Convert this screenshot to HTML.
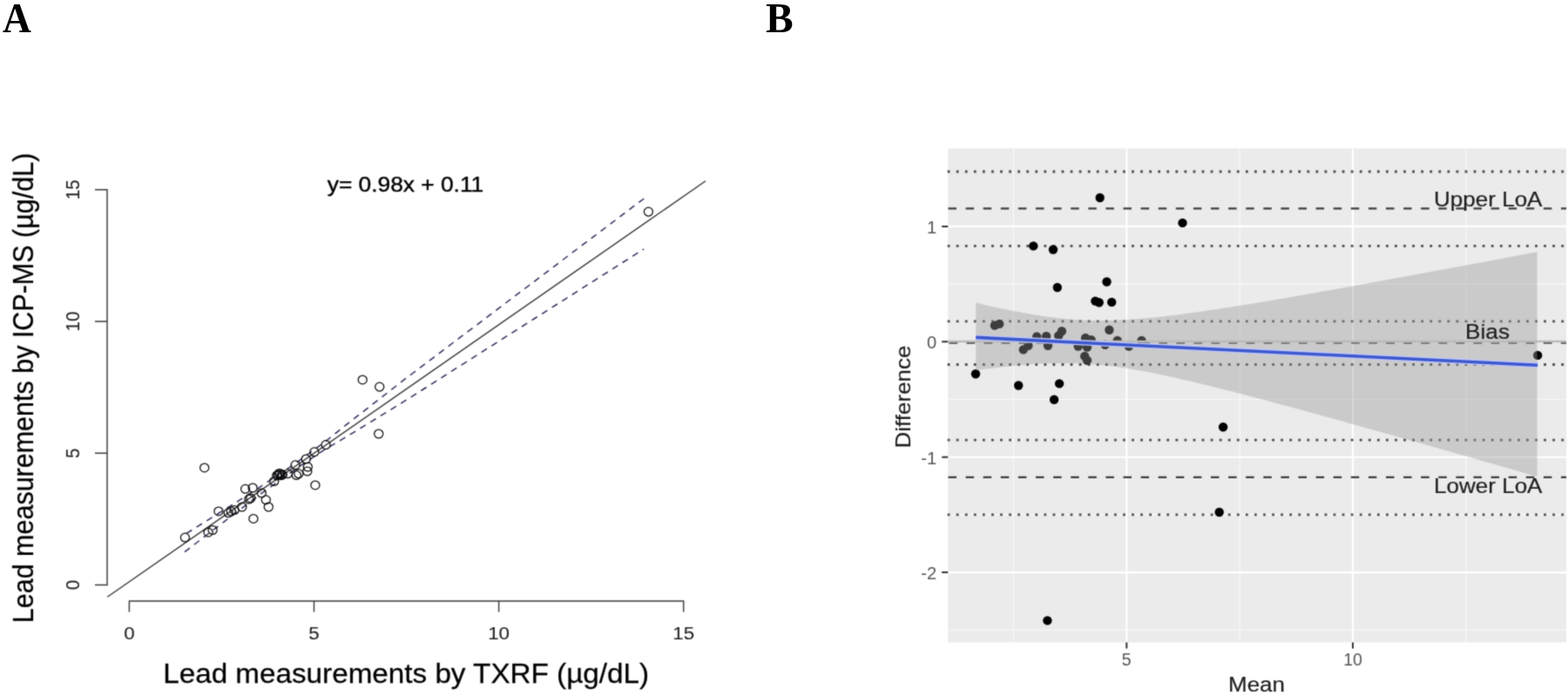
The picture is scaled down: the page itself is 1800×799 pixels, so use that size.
<!DOCTYPE html>
<html lang="en"><head><meta charset="utf-8"><title>Figure</title>
<style>html,body{margin:0;padding:0;background:#fff;}body{width:1800px;height:799px;overflow:hidden;}svg{display:block;}text{font-family:"Liberation Sans",sans-serif;}.ser{font-family:"Liberation Serif",serif;font-weight:bold;}</style>
</head><body>
<svg width="1800" height="799" viewBox="0 0 1800 799">
<defs><filter id="soft" x="0" y="0" width="1800" height="799" filterUnits="userSpaceOnUse" color-interpolation-filters="sRGB"><feConvolveMatrix order="3" kernelMatrix="1 4 1 4 16 4 1 4 1" divisor="36" edgeMode="duplicate" preserveAlpha="true"/></filter></defs>
<g filter="url(#soft)">
<rect x="0" y="0" width="1800" height="799" fill="#ffffff"/>
<g fill="none" stroke="#3a3a3a" stroke-width="1.45">
<path d="M109 217.8H123V671.5H109"/>
<path d="M109 369.0H123M109 520.3H123"/>
<path d="M148.4 702.5V690H784.7V702.5"/>
<path d="M360.5 690V702.5M572.6 690V702.5"/>
</g>
<path d="M123.30 685.3L810.00 207.7" stroke="#333333" stroke-width="1.4" fill="none"/>
<path d="M214.0 612.4L223.0 606.8L232.0 601.2L240.9 595.6L249.9 590.0L258.9 584.4L267.9 578.7L276.9 572.9L285.9 567.2L294.8 561.5L303.8 555.6L312.8 549.6L321.8 543.6L330.8 537.6L339.8 531.5L348.7 525.0L357.7 518.4L366.7 511.8L375.7 505.2L384.7 497.9L393.7 490.6L402.6 483.6L411.6 476.6L420.6 469.7L429.6 462.7L438.6 455.7L447.6 448.7L456.5 441.7L465.5 434.7L474.5 428.0L483.5 421.2L492.5 414.4L501.5 407.6L510.4 400.8L519.4 394.0L528.4 387.2L537.4 380.4L546.4 373.7L555.4 366.9L564.3 360.1L573.3 353.3L582.3 346.5L591.3 339.7L600.3 332.9L609.3 326.2L618.2 319.4L627.2 312.6L636.2 305.8L645.2 299.0L654.2 292.2L663.2 285.4L672.1 278.6L681.1 271.9L690.1 265.1L699.1 258.3L708.1 251.5L717.1 244.7L726.0 237.9L735.0 231.1L744.0 224.6" stroke="#2c2c5c" stroke-width="1.5" stroke-dasharray="7.4 6.3" fill="none"/>
<path d="M212.0 633.6L220.9 626.7L229.9 619.9L238.8 613.0L247.7 606.1L256.7 599.3L265.6 592.5L274.5 585.8L283.5 579.1L292.4 572.3L301.3 565.6L310.3 559.2L319.2 552.8L328.1 546.3L337.1 539.9L346.0 533.8L354.9 528.0L363.8 522.1L372.8 516.2L381.7 510.9L390.6 505.7L399.6 500.3L408.5 494.8L417.4 489.3L426.4 483.8L435.3 478.4L444.2 472.9L453.2 467.4L462.1 461.9L471.0 456.3L480.0 450.6L488.9 445.0L497.8 439.3L506.8 433.6L515.7 427.9L524.6 422.2L533.6 416.6L542.5 410.9L551.4 405.2L560.4 399.5L569.3 393.9L578.2 388.2L587.2 382.5L596.1 376.8L605.0 371.2L613.9 365.5L622.9 359.8L631.8 354.1L640.7 348.5L649.7 342.8L658.6 337.1L667.5 331.4L676.5 325.7L685.4 320.1L694.3 314.4L703.3 308.7L712.2 303.0L721.1 297.4L730.1 291.7L739.0 286.0" stroke="#2c2c5c" stroke-width="1.5" stroke-dasharray="7.4 6.3" fill="none"/>
<g transform="scale(1.09 1)">
<g fill="#000000" stroke="#000000" stroke-width="0.25">
<text x="344.77" y="220.2" font-size="24.15" stroke-width="0.4">y= 0.98x + 0.11</text>
<text x="171.74" y="783.9" font-size="30.5">Lead measurements by TXRF (µg/dL)</text>
<text transform="translate(34.68 715.2) rotate(-90)" font-size="30.5">Lead measurements by ICP-MS (µg/dL)</text>
</g>
<g fill="#222222" stroke="#222222" stroke-width="0.1" font-size="20.5" text-anchor="middle">
<text x="136.15" y="733.8">0</text>
<text x="330.73" y="733.8">5</text>
<text x="525.32" y="733.8">10</text>
<text x="719.91" y="733.8">15</text>
<text transform="translate(83.94 671.5) rotate(-90)">0</text>
<text transform="translate(83.94 520.3) rotate(-90)">5</text>
<text transform="translate(83.94 369.0) rotate(-90)">10</text>
<text transform="translate(83.94 217.8) rotate(-90)">15</text>
</g>
</g>
<g fill="none" stroke="#0a0a0a" stroke-width="1.25">
<ellipse cx="234.7" cy="536.9" rx="5.05" ry="4.9"/>
<ellipse cx="361.9" cy="556.9" rx="5.05" ry="4.9"/>
<ellipse cx="281.6" cy="561.3" rx="5.05" ry="4.9"/>
<ellipse cx="290.1" cy="560.0" rx="5.05" ry="4.9"/>
<ellipse cx="300.3" cy="566.0" rx="5.05" ry="4.9"/>
<ellipse cx="305.3" cy="573.8" rx="5.05" ry="4.9"/>
<ellipse cx="285.9" cy="573.0" rx="5.05" ry="4.9"/>
<ellipse cx="287.8" cy="571.9" rx="5.05" ry="4.9"/>
<ellipse cx="314.7" cy="552.5" rx="5.05" ry="4.9"/>
<ellipse cx="319.1" cy="545.0" rx="5.05" ry="4.9"/>
<ellipse cx="321.6" cy="543.8" rx="5.05" ry="4.9"/>
<ellipse cx="323.3" cy="545.6" rx="5.05" ry="4.9"/>
<ellipse cx="330.3" cy="543.8" rx="5.05" ry="4.9"/>
<ellipse cx="339.1" cy="533.8" rx="5.05" ry="4.9"/>
<ellipse cx="340.3" cy="545.6" rx="5.05" ry="4.9"/>
<ellipse cx="342.8" cy="543.8" rx="5.05" ry="4.9"/>
<ellipse cx="351.3" cy="527.0" rx="5.05" ry="4.9"/>
<ellipse cx="353.3" cy="536.0" rx="5.05" ry="4.9"/>
<ellipse cx="352.8" cy="541.0" rx="5.05" ry="4.9"/>
<ellipse cx="360.9" cy="518.8" rx="5.05" ry="4.9"/>
<ellipse cx="374.1" cy="510.6" rx="5.05" ry="4.9"/>
<ellipse cx="212.4" cy="617.1" rx="5.05" ry="4.9"/>
<ellipse cx="239.1" cy="611.2" rx="5.05" ry="4.9"/>
<ellipse cx="244.1" cy="608.5" rx="5.05" ry="4.9"/>
<ellipse cx="250.9" cy="586.9" rx="5.05" ry="4.9"/>
<ellipse cx="262.2" cy="588.8" rx="5.05" ry="4.9"/>
<ellipse cx="265.3" cy="587.0" rx="5.05" ry="4.9"/>
<ellipse cx="269.1" cy="585.6" rx="5.05" ry="4.9"/>
<ellipse cx="277.8" cy="582.0" rx="5.05" ry="4.9"/>
<ellipse cx="290.9" cy="595.4" rx="5.05" ry="4.9"/>
<ellipse cx="308.3" cy="582.0" rx="5.05" ry="4.9"/>
<ellipse cx="416.2" cy="435.9" rx="5.05" ry="4.9"/>
<ellipse cx="435.7" cy="444.1" rx="5.05" ry="4.9"/>
<ellipse cx="434.7" cy="498.0" rx="5.05" ry="4.9"/>
<ellipse cx="744.4" cy="243.1" rx="5.05" ry="4.9"/>
<ellipse cx="317.8" cy="546.0" rx="5.05" ry="4.9"/>
<ellipse cx="320.5" cy="543.4" rx="5.05" ry="4.9"/>
<ellipse cx="324.3" cy="544.8" rx="5.05" ry="4.9"/>
</g>
<rect x="1088.2" y="170.4" width="709.9" height="567.1" fill="#ebebeb"/>
<g stroke="#ffffff" fill="none">
<path d="M1088.2 326.1H1798.1M1088.2 458.5H1798.1M1088.2 590.9H1798.1M1088.2 723.3H1798.1M1163.4 170.4V737.5M1423.2 170.4V737.5M1682.9 170.4V737.5" stroke-width="1.1" stroke-opacity="0.7"/>
<path d="M1088.2 259.9H1798.1M1088.2 392.3H1798.1M1088.2 524.7H1798.1M1088.2 657.1H1798.1M1293.3 170.4V737.5M1553.0 170.4V737.5" stroke-width="2.1"/>
</g>
<g stroke="#333333" stroke-width="2" fill="none">
<path d="M1081.2 259.9H1088.2M1081.2 392.3H1088.2M1081.2 524.7H1088.2M1081.2 657.1H1088.2M1293.3 737.5V744.5M1553.0 737.5V744.5"/>
</g>
<g fill="none" stroke="#3a3a3a" stroke-width="2.6">
<path d="M1087.7 197.0H1798.1" stroke-dasharray="2.8 7.266" stroke-width="2.8" stroke="#4c4c4c"/>
<path d="M1087.7 282.3H1798.1" stroke-dasharray="2.8 7.266" stroke-width="2.8" stroke="#4c4c4c"/>
<path d="M1087.7 368.9H1798.1" stroke-dasharray="2.8 7.266" stroke-width="2.8" stroke="#4c4c4c"/>
<path d="M1087.7 418.5H1798.1" stroke-dasharray="2.8 7.266" stroke-width="2.8" stroke="#4c4c4c"/>
<path d="M1087.7 505.1H1798.1" stroke-dasharray="2.8 7.266" stroke-width="2.8" stroke="#4c4c4c"/>
<path d="M1087.7 590.8H1798.1" stroke-dasharray="2.8 7.266" stroke-width="2.8" stroke="#4c4c4c"/>
<path d="M1088.5 239.4H1798.1" stroke-width="2.2" stroke="#3c3c3c" stroke-dasharray="9.5 10.6"/>
<path d="M1088.5 547.8H1798.1" stroke-width="2.2" stroke="#3c3c3c" stroke-dasharray="9.5 10.6"/>
</g>
<g fill="#000000">
<circle cx="1262.7" cy="227.0" r="5.2"/>
<circle cx="1357.5" cy="255.9" r="5.2"/>
<circle cx="1186.3" cy="282.4" r="5.2"/>
<circle cx="1209.0" cy="286.5" r="5.2"/>
<circle cx="1120.0" cy="429.2" r="5.2"/>
<circle cx="1141.9" cy="373.6" r="5.2"/>
<circle cx="1147.2" cy="371.9" r="5.2"/>
<circle cx="1169.2" cy="442.5" r="5.2"/>
<circle cx="1174.8" cy="401.4" r="5.2"/>
<circle cx="1180.4" cy="396.7" r="5.2"/>
<circle cx="1190.2" cy="386.4" r="5.2"/>
<circle cx="1201.1" cy="386.0" r="5.2"/>
<circle cx="1203.0" cy="396.7" r="5.2"/>
<circle cx="1213.8" cy="330.0" r="5.2"/>
<circle cx="1216.1" cy="440.4" r="5.2"/>
<circle cx="1215.2" cy="385.4" r="5.2"/>
<circle cx="1218.9" cy="380.3" r="5.2"/>
<circle cx="1237.7" cy="397.6" r="5.2"/>
<circle cx="1246.1" cy="387.9" r="5.2"/>
<circle cx="1252.7" cy="390.1" r="5.2"/>
<circle cx="1248.0" cy="398.6" r="5.2"/>
<circle cx="1245.2" cy="408.9" r="5.2"/>
<circle cx="1248.0" cy="413.6" r="5.2"/>
<circle cx="1257.4" cy="345.6" r="5.2"/>
<circle cx="1261.7" cy="347.3" r="5.2"/>
<circle cx="1276.2" cy="346.9" r="5.2"/>
<circle cx="1270.5" cy="323.5" r="5.2"/>
<circle cx="1273.4" cy="378.8" r="5.2"/>
<circle cx="1268.7" cy="395.7" r="5.2"/>
<circle cx="1282.7" cy="391.0" r="5.2"/>
<circle cx="1295.9" cy="397.6" r="5.2"/>
<circle cx="1310.5" cy="391.0" r="5.2"/>
<circle cx="1210.1" cy="458.8" r="5.2"/>
<circle cx="1202.4" cy="712.4" r="5.2"/>
<circle cx="1404.1" cy="490.2" r="5.2"/>
<circle cx="1399.7" cy="588.0" r="5.2"/>
<circle cx="1765.2" cy="407.9" r="5.2"/>
</g>
<path d="M1089.4 393.9H1798.1" stroke="#4a4a4a" stroke-width="1.8" stroke-dasharray="9.8 10.27" fill="none"/>
<path d="M1120.2 347.6L1128.4 349.5L1136.5 351.4L1144.7 353.2L1152.8 354.9L1161.0 356.6L1169.1 358.1L1177.3 359.6L1185.5 361.0L1193.6 362.3L1201.8 363.5L1209.9 364.6L1218.1 365.5L1226.2 366.3L1234.4 366.9L1242.6 367.4L1250.7 367.7L1258.9 367.9L1267.0 367.9L1275.2 367.8L1283.3 367.5L1291.5 367.1L1299.7 366.6L1307.8 366.0L1316.0 365.3L1324.1 364.5L1332.3 363.7L1340.4 362.7L1348.6 361.7L1356.8 360.7L1364.9 359.6L1373.1 358.5L1381.2 357.3L1389.4 356.1L1397.5 354.9L1405.7 353.6L1413.9 352.4L1422.0 351.1L1430.2 349.7L1438.3 348.4L1446.5 347.0L1454.6 345.7L1462.8 344.3L1470.9 342.9L1479.1 341.5L1487.3 340.1L1495.4 338.7L1503.6 337.2L1511.7 335.8L1519.9 334.3L1528.0 332.9L1536.2 331.4L1544.4 330.0L1552.5 328.5L1560.7 327.0L1568.8 325.5L1577.0 324.1L1585.1 322.6L1593.3 321.1L1601.5 319.6L1609.6 318.1L1617.8 316.6L1625.9 315.1L1634.1 313.6L1642.2 312.1L1650.4 310.5L1658.6 309.0L1666.7 307.5L1674.9 306.0L1683.0 304.5L1691.2 303.0L1699.3 301.4L1707.5 299.9L1715.7 298.4L1723.8 296.9L1732.0 295.3L1740.1 293.8L1748.3 292.3L1756.4 290.7L1764.6 289.2L1764.6 547.1L1756.4 544.7L1748.3 542.4L1740.1 540.1L1732.0 537.7L1723.8 535.4L1715.7 533.1L1707.5 530.7L1699.3 528.4L1691.2 526.1L1683.0 523.7L1674.9 521.4L1666.7 519.1L1658.6 516.8L1650.4 514.5L1642.2 512.1L1634.1 509.8L1625.9 507.5L1617.8 505.2L1609.6 502.9L1601.5 500.6L1593.3 498.3L1585.1 496.0L1577.0 493.7L1568.8 491.4L1560.7 489.1L1552.5 486.9L1544.4 484.6L1536.2 482.3L1528.0 480.1L1519.9 477.8L1511.7 475.5L1503.6 473.3L1495.4 471.1L1487.3 468.8L1479.1 466.6L1470.9 464.4L1462.8 462.2L1454.6 460.0L1446.5 457.9L1438.3 455.7L1430.2 453.6L1422.0 451.4L1413.9 449.3L1405.7 447.2L1397.5 445.2L1389.4 443.2L1381.2 441.2L1373.1 439.2L1364.9 437.2L1356.8 435.4L1348.6 433.5L1340.4 431.7L1332.3 430.0L1324.1 428.3L1316.0 426.7L1307.8 425.2L1299.7 423.8L1291.5 422.5L1283.3 421.3L1275.2 420.2L1267.0 419.3L1258.9 418.5L1250.7 417.9L1242.6 417.4L1234.4 417.1L1226.2 416.9L1218.1 416.9L1209.9 417.0L1201.8 417.2L1193.6 417.6L1185.5 418.1L1177.3 418.7L1169.1 419.4L1161.0 420.2L1152.8 421.1L1144.7 422.0L1136.5 423.0L1128.4 424.0L1120.2 425.1Z" fill="#999999" fill-opacity="0.4"/>
<path d="M1088.2 392.0H1798.1" stroke="#bababa" stroke-width="2.3" fill="none"/>
<path d="M1120.2 387.4L1765.2 419.2" stroke="#c0c8ff" stroke-opacity="1" stroke-width="6.2" fill="none"/>
<path d="M1120.2 387.4L1765.2 419.2" stroke="#3c58cc" stroke-width="3.6" fill="none"/>
<g fill="#1c1c1c" stroke="#1c1c1c" stroke-width="0.2" font-size="24.5">
<text x="1646" y="237.1" textLength="124.5" lengthAdjust="spacingAndGlyphs">Upper LoA</text>
<text x="1682" y="389.3" textLength="51" lengthAdjust="spacingAndGlyphs">Bias</text>
<text x="1646" y="566.0" textLength="124.5" lengthAdjust="spacingAndGlyphs">Lower LoA</text>
</g>
<g fill="#555555" font-size="19.5">
<text x="1075.3" y="267.8" text-anchor="end" font-size="20.2">1</text>
<text x="1075.3" y="400.2" text-anchor="end" font-size="20.2">0</text>
<text x="1075.3" y="532.6" text-anchor="end" font-size="20.2">-1</text>
<text x="1075.3" y="665.0" text-anchor="end" font-size="20.2">-2</text>
<text x="1293.3" y="764.2" text-anchor="middle">5</text>
<text x="1553.0" y="764.2" text-anchor="middle">10</text>
</g>
<g fill="#1c1c1c" stroke="#1c1c1c" stroke-width="0.2" font-size="24.5">
<text x="1410" y="794" textLength="65" lengthAdjust="spacingAndGlyphs">Mean</text>
<text transform="translate(1045.2 514.5) rotate(-90)" textLength="118" lengthAdjust="spacingAndGlyphs">Difference</text>
</g>
</g>
<text class="ser" x="3" y="36.6" font-size="47.5" fill="#000" textLength="32.8" lengthAdjust="spacingAndGlyphs">A</text>
<text class="ser" x="879" y="36.6" font-size="47.5" fill="#000">B</text>
</svg>
</body></html>
